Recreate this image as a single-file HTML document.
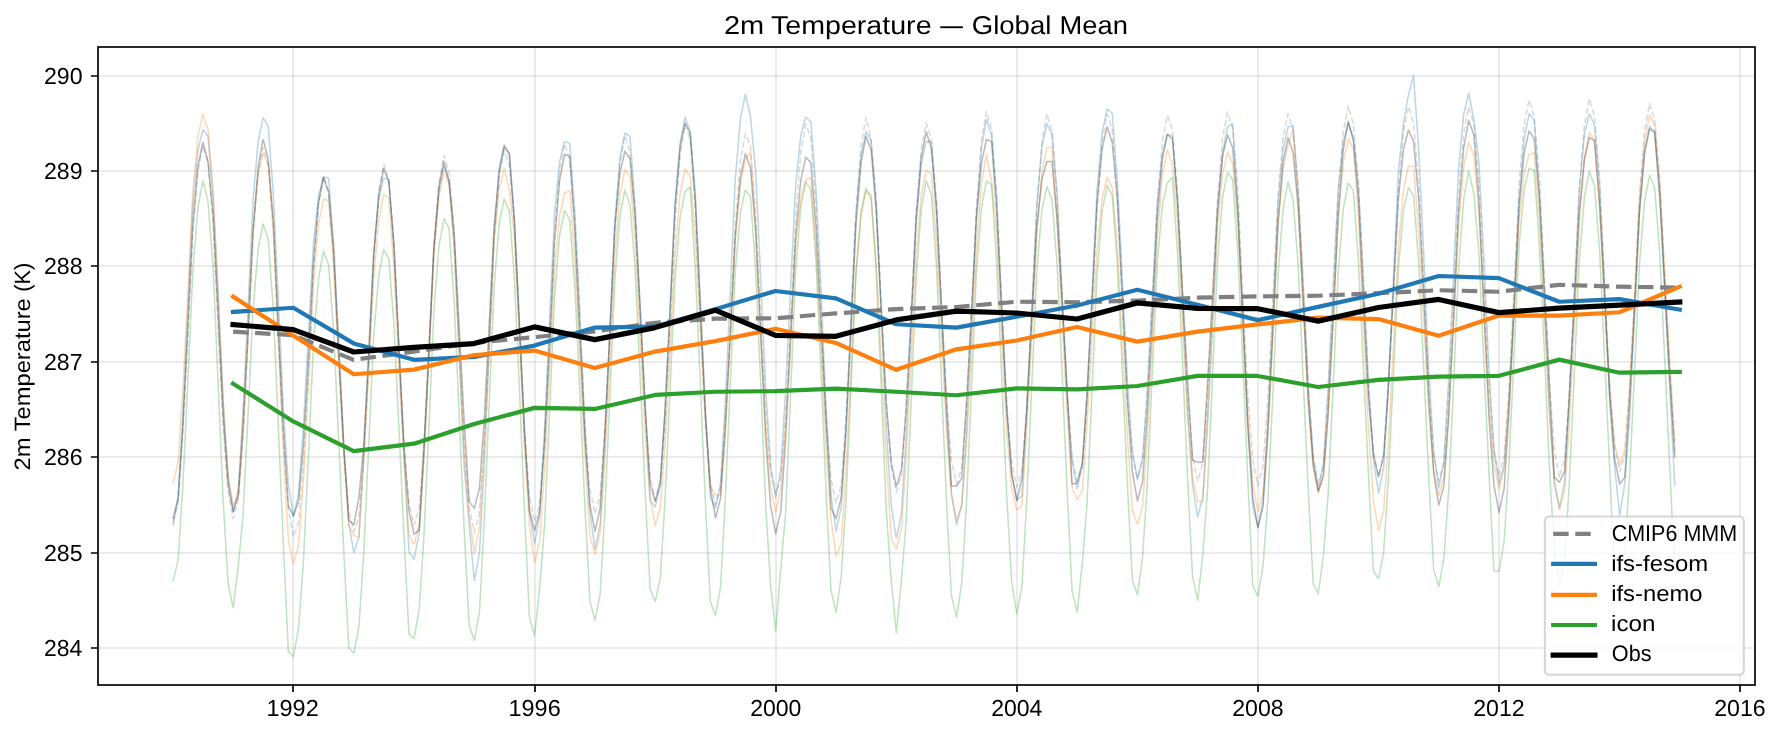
<!DOCTYPE html>
<html><head><meta charset="utf-8"><title>2m Temperature — Global Mean</title>
<style>html,body{margin:0;padding:0;background:#fff;width:1781px;height:735px;overflow:hidden;font-family:"Liberation Sans",sans-serif}</style></head>
<body>
<svg width="1781" height="735" viewBox="0 0 1781 735" style="display:block;position:absolute;left:0;top:0;will-change:transform" font-family="Liberation Sans, sans-serif" text-rendering="geometricPrecision">
<rect x="0" y="0" width="1781" height="735" fill="#fff"/>
<defs><clipPath id="ax"><rect x="98.0" y="47.0" width="1657.0" height="638.0"/></clipPath></defs>
<path d="M293 47.0 V685.0 M535 47.0 V685.0 M776 47.0 V685.0 M1017 47.0 V685.0 M1258 47.0 V685.0 M1499 47.0 V685.0 M1740 47.0 V685.0" stroke="#b0b0b0" stroke-opacity="0.3" stroke-width="1.67" fill="none"/>
<path d="M98.0 76 H1755.0 M98.0 171 H1755.0 M98.0 266 H1755.0 M98.0 362 H1755.0 M98.0 457 H1755.0 M98.0 553 H1755.0 M98.0 648 H1755.0" stroke="#b0b0b0" stroke-opacity="0.3" stroke-width="1.67" fill="none"/>
<g clip-path="url(#ax)" fill="none" stroke-linejoin="round">
<path d="M172.97 522.23 L178.09 503.11 L182.71 437.33 L187.82 337.94 L192.77 233.91 L197.89 171.60 L202.84 145.52 L207.96 161.73 L213.07 222.22 L218.03 325.05 L223.14 427.22 L228.09 492.33 L233.21 518.70 L238.33 499.88 L242.95 435.08 L248.06 337.14 L253.01 234.60 L258.13 173.15 L263.08 147.43 L268.20 163.64 L273.31 227.20 L278.26 334.24 L283.38 441.03 L288.33 509.30 L293.45 537.01 L298.56 522.27 L303.35 465.21 L308.47 372.36 L313.42 270.28 L318.53 204.61 L323.48 176.04 L328.60 191.30 L333.72 255.15 L338.67 359.17 L343.78 454.16 L348.74 510.23 L353.85 531.77 L358.97 517.09 L363.59 459.52 L368.71 365.13 L373.66 260.89 L378.77 193.39 L383.72 163.93 L388.84 180.81 L393.96 244.87 L398.91 351.09 L404.02 447.29 L408.97 503.59 L414.09 525.09 L419.21 507.98 L423.83 446.17 L428.94 349.70 L433.90 246.45 L439.01 182.52 L443.96 155.25 L449.08 172.22 L454.19 235.47 L459.15 342.12 L464.26 444.48 L469.21 507.78 L474.33 532.91 L479.45 512.93 L484.07 445.22 L489.18 343.96 L494.13 238.76 L499.25 176.47 L504.20 150.57 L509.32 165.55 L514.43 226.12 L519.38 327.68 L524.50 429.78 L529.45 495.46 L534.57 522.23 L539.68 504.02 L544.47 439.62 L549.59 340.46 L554.54 235.32 L559.65 171.09 L564.61 143.90 L569.72 158.87 L574.84 221.63 L579.79 325.25 L584.90 425.79 L589.86 488.56 L594.97 513.65 L600.09 495.81 L604.71 432.07 L609.83 333.25 L614.78 227.98 L619.89 163.22 L624.84 135.70 L629.96 151.24 L635.08 213.04 L640.03 315.91 L645.14 414.77 L650.09 475.97 L655.21 500.30 L660.33 485.49 L664.95 427.00 L670.06 330.71 L675.02 224.09 L680.13 154.83 L685.08 124.54 L690.20 139.80 L695.32 209.74 L700.27 321.58 L705.38 422.97 L710.33 482.36 L715.45 505.07 L720.57 487.95 L725.19 426.01 L730.30 329.19 L735.25 225.47 L740.37 161.15 L745.32 133.69 L750.44 146.47 L755.55 210.70 L760.51 312.90 L765.62 410.23 L770.57 470.00 L775.69 493.62 L780.80 477.60 L785.59 417.65 L790.71 321.98 L795.66 218.09 L800.77 152.39 L805.73 124.06 L810.84 137.32 L815.96 206.35 L820.91 315.18 L826.03 417.22 L830.98 478.99 L836.09 503.16 L841.21 484.85 L845.83 419.61 L850.95 318.65 L855.90 211.24 L861.01 145.29 L865.96 117.29 L871.08 139.42 L876.20 196.58 L881.15 302.10 L886.26 403.82 L891.22 466.95 L896.33 492.09 L901.45 474.93 L906.07 413.07 L911.18 316.65 L916.14 213.56 L921.25 149.80 L926.20 122.63 L931.32 139.42 L936.44 199.65 L941.39 301.96 L946.50 399.83 L951.45 460.17 L956.57 484.08 L961.69 468.20 L966.31 408.17 L971.42 311.86 L976.37 206.91 L981.49 140.21 L986.44 111.38 L991.56 128.35 L996.67 193.53 L1001.63 301.96 L1006.74 402.81 L1011.69 463.37 L1016.81 486.94 L1021.93 470.72 L1026.71 410.11 L1031.83 313.49 L1036.78 208.64 L1041.90 142.41 L1046.85 113.86 L1051.96 130.26 L1057.08 193.93 L1062.03 299.72 L1067.15 398.47 L1072.10 458.00 L1077.21 481.22 L1082.33 465.70 L1086.95 406.80 L1092.07 312.00 L1097.02 208.52 L1102.13 142.59 L1107.09 114.05 L1112.20 129.31 L1117.32 194.12 L1122.27 299.70 L1127.38 397.36 L1132.34 455.73 L1137.45 478.36 L1142.57 461.08 L1147.19 399.58 L1152.31 304.50 L1157.26 203.42 L1162.37 141.41 L1167.32 115.10 L1172.44 130.26 L1177.56 192.18 L1182.51 294.89 L1187.62 394.40 L1192.57 456.44 L1197.69 481.22 L1202.81 462.67 L1207.43 398.53 L1212.54 301.25 L1217.50 199.17 L1222.61 137.80 L1227.56 112.05 L1232.68 128.35 L1237.80 189.09 L1242.75 292.32 L1247.86 394.62 L1252.81 459.67 L1257.93 485.99 L1263.05 465.72 L1267.83 398.43 L1272.95 299.29 L1277.90 197.38 L1283.02 138.08 L1287.97 113.67 L1293.08 129.31 L1298.20 187.50 L1303.15 287.26 L1308.27 389.59 L1313.22 456.52 L1318.33 484.08 L1323.45 465.61 L1328.07 400.76 L1333.19 301.36 L1338.14 196.30 L1343.25 132.43 L1348.21 105.46 L1353.32 123.59 L1358.44 183.03 L1363.39 286.57 L1368.51 387.61 L1373.46 451.02 L1378.57 476.45 L1383.69 457.18 L1388.31 391.75 L1393.43 293.82 L1398.38 191.99 L1403.49 131.63 L1408.44 106.51 L1413.56 123.59 L1418.68 182.57 L1423.63 284.86 L1428.74 387.84 L1433.70 454.17 L1438.81 481.22 L1443.93 462.24 L1448.55 396.92 L1453.66 298.17 L1458.62 194.78 L1463.73 132.83 L1468.68 106.90 L1473.80 123.59 L1478.92 182.91 L1483.87 284.79 L1488.98 385.95 L1493.93 450.37 L1499.05 476.45 L1504.17 456.10 L1508.95 388.27 L1514.07 288.06 L1519.02 184.85 L1524.14 124.59 L1529.09 99.74 L1534.20 116.91 L1539.32 175.24 L1544.27 277.18 L1549.39 381.43 L1554.34 449.44 L1559.45 477.41 L1564.57 458.88 L1569.19 393.93 L1574.31 294.49 L1579.26 189.47 L1584.37 125.70 L1589.33 98.79 L1594.44 115.96 L1599.56 176.62 L1604.51 280.56 L1609.63 382.18 L1614.58 446.04 L1619.69 471.69 L1624.81 455.02 L1629.43 394.09 L1634.55 298.29 L1639.50 195.25 L1644.61 130.98 L1649.56 103.46 L1654.68 119.77 L1659.80 178.84 L1664.75 278.66 L1669.86 372.80 L1674.82 452.61" stroke="#808080" stroke-opacity="0.3" stroke-width="1.5" stroke-dasharray="6.17 2.67"/>
<path d="M172.97 525.57 L178.09 498.94 L182.71 418.91 L187.82 310.08 L192.77 205.08 L197.89 150.48 L202.84 129.59 L207.96 136.08 L213.07 197.41 L218.03 291.97 L223.14 400.89 L228.09 478.29 L233.21 511.74 L238.33 488.32 L242.95 413.83 L248.06 307.60 L253.01 201.08 L258.13 141.62 L263.08 117.77 L268.20 125.97 L273.31 193.80 L278.26 297.72 L283.38 409.08 L288.33 484.39 L293.45 516.03 L298.56 493.98 L303.35 426.71 L308.47 334.03 L313.42 243.63 L318.53 195.62 L323.48 176.99 L328.60 177.95 L333.72 245.53 L338.67 340.38 L343.78 446.73 L348.74 523.38 L353.85 552.75 L358.97 537.01 L363.59 457.27 L368.71 355.63 L373.66 254.88 L378.77 199.77 L383.72 177.95 L388.84 179.38 L393.96 249.32 L398.91 347.39 L404.02 454.65 L408.97 551.80 L414.09 559.43 L419.21 532.72 L423.83 460.84 L428.94 354.54 L433.90 248.35 L439.01 189.46 L443.96 165.93 L449.08 180.81 L454.19 244.57 L459.15 352.22 L464.26 468.36 L469.21 525.09 L474.33 580.50 L479.45 553.18 L484.07 468.67 L489.18 350.87 L494.13 234.86 L499.25 172.16 L504.20 147.52 L509.32 153.63 L514.43 220.57 L519.38 321.36 L524.50 433.21 L529.45 510.74 L534.57 543.79 L539.68 515.19 L544.47 431.32 L549.59 319.72 L554.54 214.05 L559.65 161.11 L564.61 141.42 L569.72 143.42 L574.84 211.48 L579.79 310.09 L584.90 427.24 L589.86 512.15 L594.97 549.22 L600.09 524.65 L604.71 446.25 L609.83 334.19 L614.78 221.61 L619.89 158.56 L624.84 133.22 L629.96 136.27 L635.08 204.89 L640.03 302.74 L645.14 407.16 L650.09 500.77 L655.21 507.07 L660.33 485.42 L664.95 414.26 L670.06 310.18 L675.02 203.78 L680.13 142.42 L685.08 117.29 L690.20 131.21 L695.32 194.50 L700.27 299.09 L705.38 407.44 L710.33 497.44 L715.45 508.40 L720.57 483.03 L725.19 403.48 L730.30 291.37 L735.25 179.97 L740.37 118.79 L745.32 94.50 L750.44 115.96 L755.55 170.15 L760.51 274.01 L765.62 387.20 L770.57 464.66 L775.69 497.44 L780.80 470.09 L785.59 390.31 L790.71 284.64 L795.66 185.03 L800.77 135.56 L805.73 117.29 L810.84 122.06 L815.96 188.43 L820.91 288.56 L826.03 407.56 L830.98 493.81 L836.09 531.48 L841.21 507.27 L845.83 430.92 L850.95 322.80 L855.90 214.98 L861.01 155.37 L865.96 131.60 L871.08 140.37 L876.20 208.53 L881.15 313.94 L886.26 428.00 L891.22 505.67 L896.33 538.44 L901.45 514.11 L906.07 437.82 L911.18 330.28 L916.14 223.42 L921.25 164.73 L926.20 141.42 L931.32 141.80 L936.44 213.39 L941.39 312.19 L946.50 419.85 L951.45 493.53 L956.57 524.71 L961.69 504.95 L966.31 435.51 L971.42 329.03 L976.37 216.43 L981.49 147.93 L986.44 119.01 L991.56 135.32 L996.67 198.99 L1001.63 305.61 L1006.74 409.16 L1011.69 473.85 L1016.81 499.72 L1021.93 496.48 L1026.71 408.90 L1031.83 308.14 L1036.78 205.78 L1041.90 147.36 L1046.85 123.59 L1051.96 134.27 L1057.08 194.99 L1062.03 291.97 L1067.15 393.44 L1072.10 460.83 L1077.21 488.85 L1082.33 466.46 L1086.95 394.98 L1092.07 292.73 L1097.02 189.96 L1102.13 132.36 L1107.09 109.18 L1112.20 113.29 L1117.32 180.25 L1122.27 277.26 L1127.38 380.77 L1132.34 450.54 L1137.45 479.79 L1142.57 457.97 L1147.19 390.47 L1152.31 296.41 L1157.26 203.79 L1162.37 153.74 L1167.32 134.08 L1172.44 136.08 L1177.56 205.04 L1182.51 302.82 L1187.62 410.78 L1192.57 485.36 L1197.69 517.08 L1202.81 496.88 L1207.43 428.03 L1212.54 324.69 L1217.50 217.04 L1222.61 153.03 L1227.56 126.35 L1232.68 123.87 L1237.80 205.86 L1242.75 316.07 L1247.86 426.79 L1252.81 506.02 L1257.93 527.00 L1263.05 500.76 L1267.83 421.06 L1272.95 311.64 L1277.90 205.23 L1283.02 149.03 L1287.97 127.30 L1293.08 125.30 L1298.20 190.71 L1303.15 281.60 L1308.27 385.03 L1313.22 457.95 L1318.33 489.33 L1323.45 463.52 L1328.07 387.56 L1333.19 286.15 L1338.14 189.86 L1343.25 141.33 L1348.21 123.20 L1353.32 137.51 L1358.44 187.15 L1363.39 277.01 L1368.51 383.24 L1373.46 459.97 L1378.57 493.43 L1383.69 466.85 L1388.31 386.67 L1393.43 277.24 L1398.38 171.34 L1403.49 123.20 L1408.44 94.69 L1413.56 75.33 L1418.68 149.29 L1423.63 252.14 L1428.74 369.43 L1433.70 452.24 L1438.81 487.90 L1443.93 461.15 L1448.55 381.04 L1453.66 272.44 L1458.62 167.93 L1463.73 113.86 L1468.68 93.26 L1473.80 119.20 L1478.92 162.39 L1483.87 258.88 L1488.98 370.36 L1493.93 449.74 L1499.05 484.08 L1504.17 465.43 L1508.95 401.02 L1514.07 303.39 L1519.02 200.99 L1524.14 139.47 L1529.09 113.67 L1534.20 120.15 L1539.32 194.54 L1544.27 303.00 L1549.39 411.01 L1554.34 484.08 L1559.45 507.93 L1564.57 481.82 L1569.19 402.84 L1574.31 294.76 L1579.26 189.94 L1584.37 134.88 L1589.33 113.67 L1594.44 125.30 L1599.56 185.95 L1604.51 286.36 L1609.63 400.52 L1614.58 465.96 L1619.69 515.56 L1624.81 483.13 L1629.43 420.26 L1634.55 315.58 L1639.50 209.83 L1644.61 150.05 L1649.56 125.87 L1654.68 132.45 L1659.80 195.62 L1664.75 290.58 L1669.86 390.89 L1674.82 485.99" stroke="#1f77b4" stroke-opacity="0.3" stroke-width="1.5"/>
<path d="M172.97 483.89 L178.09 462.08 L182.71 392.43 L187.82 292.82 L192.77 192.71 L197.89 136.61 L202.84 114.05 L207.96 129.59 L213.07 188.96 L218.03 291.25 L223.14 400.49 L228.09 474.16 L233.21 505.07 L238.33 497.44 L242.95 418.05 L248.06 323.23 L253.01 227.91 L258.13 174.46 L263.08 152.96 L268.20 163.93 L273.31 231.62 L278.26 339.02 L283.38 453.75 L288.33 539.68 L293.45 563.62 L298.56 544.98 L303.35 481.10 L308.47 384.82 L313.42 284.22 L318.53 224.14 L323.48 199.02 L328.60 201.03 L333.72 268.36 L338.67 361.26 L343.78 453.34 L348.74 524.71 L353.85 535.58 L358.97 537.01 L363.59 463.05 L368.71 374.13 L373.66 278.83 L378.77 219.69 L383.72 194.44 L388.84 197.97 L393.96 268.90 L398.91 367.84 L404.02 462.63 L408.97 535.58 L414.09 544.36 L419.21 524.03 L423.83 456.64 L428.94 357.46 L433.90 255.59 L439.01 196.39 L443.96 172.03 L449.08 184.62 L454.19 247.83 L459.15 350.32 L464.26 455.74 L469.21 515.56 L474.33 553.32 L479.45 527.06 L484.07 448.67 L489.18 342.68 L494.13 240.92 L499.25 188.51 L504.20 168.60 L509.32 190.34 L514.43 238.22 L519.38 335.43 L524.50 447.94 L529.45 525.09 L534.57 562.86 L539.68 540.49 L544.47 469.97 L549.59 370.10 L554.54 270.51 L559.65 215.45 L564.61 193.49 L569.72 190.34 L574.84 259.22 L579.79 353.60 L584.90 455.74 L589.86 535.58 L594.97 554.66 L600.09 533.65 L604.71 463.97 L609.83 361.35 L614.78 255.91 L619.89 194.59 L624.84 169.36 L629.96 176.13 L635.08 240.57 L640.03 336.70 L645.14 435.03 L650.09 497.44 L655.21 525.57 L660.33 507.81 L664.95 446.10 L670.06 352.25 L675.02 253.55 L680.13 194.01 L685.08 168.98 L690.20 176.13 L695.32 237.08 L700.27 328.03 L705.38 417.04 L710.33 486.94 L715.45 495.53 L720.57 494.57 L725.19 421.43 L730.30 333.25 L735.25 240.15 L740.37 183.65 L745.32 159.83 L750.44 152.20 L755.55 226.65 L760.51 326.28 L765.62 424.49 L770.57 486.66 L775.69 511.74 L780.80 489.95 L785.59 423.79 L790.71 333.02 L795.66 244.78 L800.77 198.22 L805.73 180.23 L810.84 177.56 L815.96 246.30 L820.91 341.52 L826.03 448.75 L830.98 519.37 L836.09 555.99 L841.21 543.79 L845.83 470.54 L850.95 373.52 L855.90 273.66 L861.01 215.41 L865.96 191.39 L871.08 194.44 L876.20 262.94 L881.15 359.54 L886.26 458.30 L891.22 538.44 L896.33 549.22 L901.45 528.49 L906.07 459.85 L911.18 358.91 L916.14 255.30 L921.25 195.14 L926.20 170.41 L931.32 173.65 L936.44 240.28 L941.39 334.67 L946.50 431.39 L951.45 494.59 L956.57 520.61 L961.69 505.36 L966.31 447.01 L971.42 352.68 L976.37 249.40 L981.49 183.34 L986.44 154.68 L991.56 181.19 L996.67 233.42 L1001.63 337.06 L1006.74 432.17 L1011.69 488.56 L1016.81 510.31 L1021.93 505.64 L1026.71 429.57 L1031.83 334.11 L1036.78 233.66 L1041.90 173.02 L1046.85 147.52 L1051.96 147.52 L1057.08 220.66 L1062.03 318.46 L1067.15 414.59 L1072.10 487.90 L1077.21 499.72 L1082.33 490.76 L1086.95 424.15 L1092.07 338.40 L1097.02 250.18 L1102.13 198.75 L1107.09 177.56 L1112.20 187.29 L1117.32 246.62 L1122.27 339.98 L1127.38 435.94 L1132.34 509.83 L1137.45 524.71 L1142.57 506.02 L1147.19 441.06 L1152.31 342.22 L1157.26 238.25 L1162.37 175.52 L1167.32 149.14 L1172.44 165.07 L1177.56 222.52 L1182.51 320.56 L1187.62 416.70 L1192.57 477.27 L1197.69 501.63 L1202.81 501.63 L1207.43 415.57 L1212.54 321.59 L1217.50 226.98 L1222.61 173.81 L1227.56 152.39 L1232.68 163.07 L1237.80 221.45 L1242.75 315.66 L1247.86 415.97 L1252.81 483.46 L1257.93 511.74 L1263.05 492.48 L1267.83 427.33 L1272.95 330.06 L1277.90 229.11 L1283.02 169.45 L1287.97 144.66 L1293.08 130.36 L1298.20 203.94 L1303.15 302.94 L1308.27 402.76 L1313.22 467.14 L1318.33 493.43 L1323.45 473.99 L1328.07 409.69 L1333.19 315.20 L1338.14 218.27 L1343.25 162.04 L1348.21 138.94 L1353.32 148.76 L1358.44 216.43 L1363.39 321.34 L1368.51 429.82 L1373.46 501.21 L1378.57 530.72 L1383.69 510.21 L1388.31 443.26 L1393.43 345.81 L1398.38 246.58 L1403.49 189.70 L1408.44 166.50 L1413.56 166.12 L1418.68 230.95 L1423.63 318.84 L1428.74 410.18 L1433.70 470.52 L1438.81 495.53 L1443.93 477.30 L1448.55 415.11 L1453.66 321.69 L1458.62 224.31 L1463.73 166.35 L1468.68 142.18 L1473.80 154.87 L1478.92 213.09 L1483.87 308.30 L1488.98 403.52 L1493.93 464.53 L1499.05 489.33 L1504.17 467.91 L1508.95 402.07 L1514.07 310.78 L1519.02 221.25 L1524.14 173.25 L1529.09 154.48 L1534.20 152.39 L1539.32 217.99 L1544.27 308.59 L1549.39 409.43 L1554.34 479.32 L1559.45 509.36 L1564.57 491.49 L1569.19 427.74 L1574.31 329.03 L1579.26 223.95 L1584.37 159.39 L1589.33 131.98 L1594.44 140.56 L1599.56 203.32 L1604.51 298.01 L1609.63 388.24 L1614.58 443.67 L1619.69 465.58 L1624.81 448.38 L1629.43 388.17 L1634.55 296.09 L1639.50 198.91 L1644.61 139.95 L1649.56 115.10 L1654.68 125.30 L1659.80 183.43 L1664.75 274.59 L1669.86 363.34 L1674.82 441.17" stroke="#ff7f0e" stroke-opacity="0.3" stroke-width="1.5"/>
<path d="M172.97 581.36 L178.09 560.00 L182.71 488.35 L187.82 381.98 L192.77 272.05 L197.89 207.51 L202.84 180.81 L207.96 200.83 L213.07 266.37 L218.03 381.81 L223.14 499.56 L228.09 583.27 L233.21 607.68 L238.33 565.53 L242.95 516.88 L248.06 414.57 L253.01 309.70 L258.13 248.95 L263.08 224.01 L268.20 238.98 L273.31 309.42 L278.26 425.12 L283.38 544.99 L288.33 651.27 L293.45 656.70 L298.56 628.09 L303.35 562.54 L308.47 454.88 L313.42 343.62 L318.53 278.31 L323.48 251.29 L328.60 264.73 L333.72 332.14 L338.67 441.13 L343.78 551.86 L348.74 647.74 L353.85 653.17 L358.97 626.76 L363.59 554.69 L368.71 446.34 L373.66 336.79 L378.77 274.77 L383.72 249.66 L388.84 258.63 L393.96 325.04 L398.91 427.62 L404.02 535.90 L408.97 634.39 L414.09 638.49 L419.21 609.02 L423.83 538.32 L428.94 426.14 L433.90 311.56 L439.01 245.57 L443.96 218.57 L449.08 228.49 L454.19 301.74 L459.15 414.44 L464.26 531.38 L469.21 625.42 L474.33 640.49 L479.45 611.81 L484.07 524.26 L489.18 403.58 L494.13 285.82 L499.25 223.23 L504.20 198.93 L509.32 210.85 L514.43 278.27 L519.38 388.19 L524.50 511.95 L529.45 617.22 L534.57 635.72 L539.68 587.08 L544.47 526.42 L549.59 410.84 L554.54 296.73 L559.65 234.78 L564.61 210.37 L569.72 219.91 L574.84 286.44 L579.79 391.21 L584.90 506.77 L589.86 600.91 L594.97 620.46 L600.09 594.68 L604.71 512.96 L609.83 396.76 L614.78 280.49 L619.89 215.84 L624.84 189.96 L629.96 204.65 L635.08 268.29 L640.03 375.44 L645.14 490.71 L650.09 588.70 L655.21 601.77 L660.33 577.87 L664.95 501.11 L670.06 390.79 L675.02 279.50 L680.13 216.74 L685.08 191.39 L690.20 187.29 L695.32 269.82 L700.27 382.31 L705.38 501.68 L710.33 600.91 L715.45 615.31 L720.57 586.79 L725.19 500.98 L730.30 384.14 L735.25 271.29 L740.37 212.49 L745.32 189.96 L750.44 196.54 L755.55 268.75 L760.51 378.42 L765.62 503.89 L770.57 584.60 L775.69 630.95 L780.80 568.01 L785.59 513.56 L790.71 391.03 L795.66 271.05 L800.77 206.88 L805.73 181.86 L810.84 189.39 L815.96 260.45 L820.91 369.19 L826.03 491.01 L830.98 590.04 L836.09 612.36 L841.21 576.59 L845.83 503.82 L850.95 388.63 L855.90 274.65 L861.01 212.51 L865.96 187.96 L871.08 198.55 L876.20 271.01 L881.15 385.21 L886.26 510.44 L891.22 579.45 L896.33 633.05 L901.45 579.45 L906.07 522.79 L911.18 401.39 L916.14 278.58 L921.25 208.99 L926.20 180.81 L931.32 194.44 L936.44 265.48 L941.39 380.69 L946.50 502.19 L951.45 595.67 L956.57 617.22 L961.69 583.27 L966.31 507.67 L971.42 389.80 L976.37 272.21 L981.49 207.15 L986.44 181.19 L991.56 184.72 L996.67 263.08 L1001.63 375.26 L1006.74 496.58 L1011.69 581.84 L1016.81 613.98 L1021.93 586.24 L1026.71 501.57 L1031.83 384.81 L1036.78 270.85 L1041.90 210.26 L1046.85 186.72 L1051.96 199.59 L1057.08 264.09 L1062.03 371.26 L1067.15 491.84 L1072.10 591.37 L1077.21 612.36 L1082.33 562.86 L1086.95 505.25 L1092.07 389.86 L1097.02 274.63 L1102.13 210.79 L1107.09 185.29 L1112.20 195.49 L1117.32 262.90 L1122.27 369.19 L1127.38 483.97 L1132.34 579.93 L1137.45 594.90 L1142.57 557.52 L1147.19 485.90 L1152.31 373.14 L1157.26 263.37 L1162.37 205.29 L1167.32 182.81 L1172.44 177.37 L1177.56 254.02 L1182.51 360.27 L1187.62 480.22 L1192.57 576.40 L1197.69 600.44 L1202.81 554.66 L1207.43 491.79 L1212.54 375.78 L1217.50 260.56 L1222.61 197.32 L1227.56 172.22 L1232.68 179.76 L1237.80 251.76 L1242.75 360.96 L1247.86 480.03 L1252.81 585.94 L1257.93 596.05 L1263.05 565.53 L1267.83 501.47 L1272.95 391.88 L1277.90 277.80 L1283.02 210.07 L1287.97 181.86 L1293.08 199.88 L1298.20 265.69 L1303.15 378.34 L1308.27 491.37 L1313.22 584.03 L1318.33 593.57 L1323.45 554.66 L1328.07 495.18 L1333.19 385.39 L1338.14 273.47 L1343.25 209.23 L1348.21 183.00 L1353.32 190.63 L1358.44 260.82 L1363.39 366.33 L1368.51 476.04 L1373.46 570.97 L1378.57 578.60 L1383.69 551.89 L1388.31 479.38 L1393.43 373.44 L1398.38 268.23 L1403.49 210.49 L1408.44 187.58 L1413.56 195.68 L1418.68 262.51 L1423.63 365.40 L1428.74 477.54 L1433.70 569.63 L1438.81 586.80 L1443.93 557.52 L1448.55 492.72 L1453.66 382.76 L1458.62 267.77 L1463.73 198.99 L1468.68 170.22 L1473.80 193.68 L1478.92 252.66 L1483.87 363.14 L1488.98 472.83 L1493.93 570.97 L1499.05 570.97 L1504.17 541.31 L1508.95 464.27 L1514.07 354.01 L1519.02 246.73 L1524.14 190.05 L1529.09 168.12 L1534.20 170.22 L1539.32 243.77 L1544.27 348.66 L1549.39 467.14 L1554.34 550.27 L1559.45 585.94 L1564.57 562.13 L1569.19 485.14 L1574.31 373.89 L1579.26 261.21 L1584.37 197.22 L1589.33 171.27 L1594.44 185.48 L1599.56 249.53 L1604.51 355.96 L1609.63 467.93 L1614.58 576.59 L1619.69 573.73 L1624.81 551.64 L1629.43 478.95 L1634.55 372.58 L1639.50 263.79 L1644.61 201.00 L1649.56 175.28 L1654.68 187.96 L1659.80 253.82 L1664.75 360.19 L1669.86 470.29 L1674.82 572.78" stroke="#2ca02c" stroke-opacity="0.3" stroke-width="1.5"/>
<path d="M172.97 518.70 L178.09 497.57 L182.71 428.46 L187.82 327.79 L192.77 225.19 L197.89 166.31 L202.84 142.28 L207.96 161.45 L213.07 214.89 L218.03 313.37 L223.14 415.85 L228.09 483.63 L233.21 511.74 L238.33 494.81 L242.95 433.07 L248.06 336.15 L253.01 232.02 L258.13 167.16 L263.08 139.42 L268.20 158.97 L273.31 219.98 L278.26 326.91 L283.38 428.76 L288.33 506.02 L293.45 516.03 L298.56 501.00 L303.35 445.47 L308.47 357.58 L313.42 262.65 L318.53 203.06 L323.48 177.47 L328.60 192.25 L333.72 252.24 L338.67 351.33 L343.78 445.03 L348.74 519.85 L353.85 524.71 L358.97 497.44 L363.59 446.62 L368.71 353.17 L373.66 254.22 L378.77 193.91 L383.72 168.41 L388.84 181.76 L393.96 244.78 L398.91 346.77 L404.02 446.46 L408.97 510.79 L414.09 534.25 L419.21 530.15 L423.83 448.64 L428.94 349.88 L433.90 247.33 L439.01 186.66 L443.96 161.45 L449.08 181.76 L454.19 232.11 L459.15 327.07 L464.26 422.32 L469.21 501.63 L474.33 508.40 L479.45 488.23 L484.07 421.90 L489.18 324.87 L494.13 225.68 L499.25 168.47 L504.20 145.04 L509.32 153.63 L514.43 221.03 L519.38 324.01 L524.50 430.92 L529.45 510.79 L534.57 530.72 L539.68 511.41 L544.47 445.34 L549.59 345.85 L554.54 241.97 L559.65 179.99 L564.61 154.10 L569.72 156.68 L574.84 231.29 L579.79 334.89 L584.90 438.36 L589.86 504.58 L594.97 531.48 L600.09 507.99 L604.71 434.62 L609.83 331.51 L614.78 229.29 L619.89 173.38 L624.84 151.24 L629.96 158.78 L635.08 216.69 L640.03 306.67 L645.14 405.23 L650.09 484.08 L655.21 501.63 L660.33 480.38 L664.95 410.89 L670.06 309.64 L675.02 206.43 L680.13 147.20 L685.08 123.01 L690.20 133.22 L695.32 200.49 L700.27 305.62 L705.38 415.22 L710.33 487.81 L715.45 517.94 L720.57 498.33 L725.19 432.85 L730.30 335.99 L735.25 236.12 L740.37 177.73 L745.32 153.63 L750.44 167.93 L755.55 229.58 L760.51 332.14 L765.62 437.06 L770.57 505.52 L775.69 533.68 L780.80 511.24 L785.59 439.97 L790.71 338.45 L795.66 236.75 L800.77 180.07 L805.73 157.35 L810.84 162.21 L815.96 226.24 L820.91 320.42 L826.03 421.51 L830.98 508.40 L836.09 518.70 L841.21 497.44 L845.83 433.45 L850.95 332.78 L855.90 226.94 L861.01 163.10 L865.96 136.27 L871.08 149.62 L876.20 209.32 L881.15 306.89 L886.26 402.41 L891.22 462.51 L896.33 486.66 L901.45 469.49 L906.07 408.95 L911.18 315.89 L916.14 217.32 L921.25 157.21 L926.20 131.79 L931.32 148.57 L936.44 205.97 L941.39 304.94 L946.50 401.36 L951.45 485.99 L956.57 485.99 L961.69 478.36 L966.31 406.33 L971.42 314.50 L976.37 219.18 L981.49 162.83 L986.44 139.42 L991.56 141.42 L996.67 212.44 L1001.63 310.75 L1006.74 410.19 L1011.69 474.48 L1016.81 500.77 L1021.93 478.23 L1026.71 410.12 L1031.83 317.05 L1036.78 226.89 L1041.90 179.62 L1046.85 161.45 L1051.96 161.45 L1057.08 218.93 L1062.03 298.93 L1067.15 390.46 L1072.10 484.08 L1077.21 483.13 L1082.33 462.55 L1086.95 396.17 L1092.07 300.47 L1097.02 203.71 L1102.13 148.92 L1107.09 126.73 L1112.20 142.47 L1117.32 199.13 L1122.27 297.72 L1127.38 401.92 L1132.34 471.65 L1137.45 500.77 L1142.57 481.42 L1147.19 416.19 L1152.31 319.04 L1157.26 218.38 L1162.37 159.06 L1167.32 134.46 L1172.44 138.94 L1177.56 201.09 L1182.51 290.67 L1187.62 380.67 L1192.57 460.24 L1197.69 462.15 L1202.81 462.15 L1207.43 384.34 L1212.54 296.97 L1217.50 207.59 L1222.61 155.98 L1227.56 134.84 L1232.68 147.71 L1237.80 212.04 L1242.75 316.76 L1247.86 425.83 L1252.81 498.01 L1257.93 527.95 L1263.05 506.28 L1267.83 435.01 L1272.95 330.76 L1277.90 224.17 L1283.02 162.69 L1287.97 137.51 L1293.08 152.86 L1298.20 207.69 L1303.15 302.66 L1308.27 400.61 L1313.22 464.95 L1318.33 491.52 L1323.45 475.86 L1328.07 416.43 L1333.19 320.81 L1338.14 216.45 L1343.25 149.98 L1348.21 121.20 L1353.32 140.56 L1358.44 199.75 L1363.39 303.22 L1368.51 398.51 L1373.46 455.20 L1378.57 477.12 L1383.69 454.68 L1388.31 386.04 L1393.43 291.24 L1398.38 198.59 L1403.49 149.19 L1408.44 129.97 L1413.56 141.61 L1418.68 198.56 L1423.63 293.40 L1428.74 399.50 L1433.70 473.45 L1438.81 505.07 L1443.93 485.61 L1448.55 418.58 L1453.66 317.19 L1458.62 210.99 L1463.73 147.31 L1468.68 120.63 L1473.80 134.46 L1478.92 201.10 L1483.87 309.01 L1488.98 416.33 L1493.93 485.04 L1499.05 512.50 L1504.17 488.41 L1508.95 413.92 L1514.07 310.12 L1519.02 207.93 L1524.14 152.71 L1529.09 131.02 L1534.20 138.56 L1539.32 195.74 L1544.27 285.03 L1549.39 384.16 L1554.34 477.41 L1559.45 482.18 L1564.57 471.69 L1569.19 398.51 L1574.31 306.07 L1579.26 212.39 L1584.37 159.13 L1589.33 137.51 L1594.44 140.56 L1599.56 204.92 L1604.51 296.59 L1609.63 393.01 L1614.58 458.33 L1619.69 484.08 L1624.81 477.41 L1629.43 404.27 L1634.55 310.58 L1639.50 212.38 L1644.61 153.44 L1649.56 128.73 L1654.68 132.45 L1659.80 196.82 L1664.75 287.90 L1669.86 377.67 L1674.82 457.38" stroke="#000000" stroke-opacity="0.28" stroke-width="1.5"/>
<path d="M233.04 331.68 L293.28 335.12 L353.69 359.82 L413.93 351.61 L474.16 342.94 L534.40 337.12 L594.81 331.40 L655.05 322.72 L715.28 318.62 L775.52 318.24 L835.93 313.37 L896.17 309.08 L956.41 306.98 L1016.64 301.74 L1077.05 302.21 L1137.29 300.59 L1197.53 297.64 L1257.76 296.40 L1318.17 295.73 L1378.41 293.15 L1438.65 290.20 L1498.89 291.72 L1559.29 284.86 L1619.53 286.67 L1679.77 287.62" stroke="#808080" stroke-width="4.17" stroke-dasharray="15.42 6.67"/>
<path d="M233.04 311.94 L293.28 307.74 L353.69 343.41 L413.93 359.82 L474.16 356.86 L534.40 345.61 L594.81 327.58 L655.05 326.63 L715.28 309.18 L775.52 290.96 L835.93 298.40 L896.17 324.24 L956.41 327.58 L1016.64 316.71 L1077.05 305.46 L1137.29 289.72 L1197.53 304.69 L1257.76 320.14 L1318.17 306.89 L1378.41 293.82 L1438.65 275.99 L1498.89 278.18 L1559.29 301.74 L1619.53 299.16 L1679.77 309.65" stroke="#1f77b4" stroke-width="4.17" stroke-linecap="square"/>
<path d="M233.04 296.59 L293.28 335.59 L353.69 374.22 L413.93 369.64 L474.16 355.05 L534.40 350.57 L594.81 368.11 L655.05 351.61 L715.28 341.12 L775.52 328.73 L835.93 342.94 L896.17 369.83 L956.41 349.33 L1016.64 340.46 L1077.05 326.91 L1137.29 341.60 L1197.53 331.59 L1257.76 324.43 L1318.17 317.66 L1378.41 319.09 L1438.65 335.78 L1498.89 315.56 L1559.29 315.56 L1619.53 312.23 L1679.77 286.67" stroke="#ff7f0e" stroke-width="4.17" stroke-linecap="square"/>
<path d="M233.04 383.66 L293.28 421.43 L353.69 451.09 L413.93 443.65 L474.16 424.10 L534.40 407.88 L594.81 408.93 L655.05 394.91 L715.28 391.77 L775.52 391.10 L835.93 388.62 L896.17 391.77 L956.41 395.29 L1016.64 388.33 L1077.05 389.38 L1137.29 386.04 L1197.53 375.93 L1257.76 375.93 L1318.17 387.00 L1378.41 379.94 L1438.65 376.70 L1498.89 375.84 L1559.29 359.63 L1619.53 372.69 L1679.77 371.83" stroke="#2ca02c" stroke-width="4.17" stroke-linecap="square"/>
<path d="M233.04 324.62 L293.28 329.58 L353.69 352.00 L413.93 347.42 L474.16 343.60 L534.40 326.91 L594.81 339.60 L655.05 327.58 L715.28 310.13 L775.52 335.40 L835.93 336.36 L896.17 319.95 L956.41 311.18 L1016.64 312.99 L1077.05 319.00 L1137.29 302.88 L1197.53 308.41 L1257.76 308.70 L1318.17 321.10 L1378.41 307.46 L1438.65 299.45 L1498.89 312.61 L1559.29 308.13 L1619.53 305.07 L1679.77 301.93" stroke="#000000" stroke-width="5.21" stroke-linecap="square"/>
</g>
<path d="M293 685.0 v7.1 M535 685.0 v7.1 M776 685.0 v7.1 M1017 685.0 v7.1 M1258 685.0 v7.1 M1499 685.0 v7.1 M1740 685.0 v7.1 M98.0 76 h-7.1 M98.0 171 h-7.1 M98.0 266 h-7.1 M98.0 362 h-7.1 M98.0 457 h-7.1 M98.0 553 h-7.1 M98.0 648 h-7.1" stroke="#000" stroke-width="1.67" fill="none"/>
<rect x="98.0" y="47.0" width="1657.0" height="638.0" fill="none" stroke="#000" stroke-width="1.67"/>
<rect x="1544.9" y="516.5" width="198.89999999999986" height="158.20000000000005" rx="4.2" ry="4.2" fill="#fff" fill-opacity="0.8" stroke="#cccccc" stroke-opacity="0.8" stroke-width="2.08"/>
<path d="M1553.2 533.9 H1594.9" stroke="#808080" stroke-width="4.17" stroke-dasharray="15.42 6.67" fill="none"/>
<path d="M1553.2 563.9 H1594.9" stroke="#1f77b4" stroke-width="4.17" stroke-linecap="square" fill="none"/>
<path d="M1553.2 594.9 H1594.9" stroke="#ff7f0e" stroke-width="4.17" stroke-linecap="square" fill="none"/>
<path d="M1553.2 625.0 H1594.9" stroke="#2ca02c" stroke-width="4.17" stroke-linecap="square" fill="none"/>
<path d="M1553.2 655.1 H1594.9" stroke="#000000" stroke-width="5.21" stroke-linecap="square" fill="none"/>
<text x="723.94" y="33.9" font-size="25.8" textLength="40.26" lengthAdjust="spacingAndGlyphs">2m</text>
<text x="771.04" y="33.9" font-size="25.8" textLength="160.53" lengthAdjust="spacingAndGlyphs">Temperature</text>
<text x="971.70" y="33.9" font-size="25.8" textLength="79.69" lengthAdjust="spacingAndGlyphs">Global</text>
<text x="1059.58" y="33.9" font-size="25.8" textLength="68.27" lengthAdjust="spacingAndGlyphs">Mean</text>
<text x="266.44" y="715.9" font-size="23.2" textLength="52.27" lengthAdjust="spacingAndGlyphs">1992</text>
<text x="508.44" y="715.9" font-size="23.2" textLength="52.27" lengthAdjust="spacingAndGlyphs">1996</text>
<text x="750.26" y="715.9" font-size="23.2" textLength="51.17" lengthAdjust="spacingAndGlyphs">2000</text>
<text x="991.26" y="715.9" font-size="23.2" textLength="51.17" lengthAdjust="spacingAndGlyphs">2004</text>
<text x="1232.26" y="715.9" font-size="23.2" textLength="51.44" lengthAdjust="spacingAndGlyphs">2008</text>
<text x="1473.26" y="715.9" font-size="23.2" textLength="51.44" lengthAdjust="spacingAndGlyphs">2012</text>
<text x="1714.26" y="715.9" font-size="23.2" textLength="51.44" lengthAdjust="spacingAndGlyphs">2016</text>
<text x="43.94" y="83.9" font-size="23.2" textLength="38.62" lengthAdjust="spacingAndGlyphs">290</text>
<text x="43.94" y="178.9" font-size="23.2" textLength="38.62" lengthAdjust="spacingAndGlyphs">289</text>
<text x="43.94" y="273.9" font-size="23.2" textLength="38.62" lengthAdjust="spacingAndGlyphs">288</text>
<text x="43.94" y="369.9" font-size="23.2" textLength="38.62" lengthAdjust="spacingAndGlyphs">287</text>
<text x="43.94" y="464.9" font-size="23.2" textLength="38.62" lengthAdjust="spacingAndGlyphs">286</text>
<text x="43.94" y="560.9" font-size="23.2" textLength="38.62" lengthAdjust="spacingAndGlyphs">285</text>
<text x="43.95" y="655.9" font-size="23.2" textLength="38.34" lengthAdjust="spacingAndGlyphs">284</text>
<text transform="translate(30.0 469.5) rotate(-90)" x="-1.09" y="0" font-size="22.2" textLength="33.01" lengthAdjust="spacingAndGlyphs">2m</text>
<text transform="translate(30.0 430.75) rotate(-90)" x="-0.51" y="0" font-size="22.2" textLength="132.97" lengthAdjust="spacingAndGlyphs">Temperature</text>
<text transform="translate(30.0 290.4) rotate(-90)" x="-1.37" y="0" font-size="22.2" textLength="29.04" lengthAdjust="spacingAndGlyphs">(K)</text>
<text x="1611.68" y="540.6" font-size="23.0" textLength="125.46" lengthAdjust="spacingAndGlyphs">CMIP6 MMM</text>
<text x="1611.15" y="570.8" font-size="22.2" textLength="96.95" lengthAdjust="spacingAndGlyphs">ifs-fesom</text>
<text x="1611.16" y="601.0" font-size="22.2" textLength="91.37" lengthAdjust="spacingAndGlyphs">ifs-nemo</text>
<text x="1611.08" y="631.1" font-size="22.2" textLength="44.38" lengthAdjust="spacingAndGlyphs">icon</text>
<text x="1611.85" y="661.3" font-size="22.6" textLength="39.69" lengthAdjust="spacingAndGlyphs">Obs</text>
<rect x="940.3" y="26.3" width="22.6" height="1.85" fill="#000"/>
</svg>
</body></html>
